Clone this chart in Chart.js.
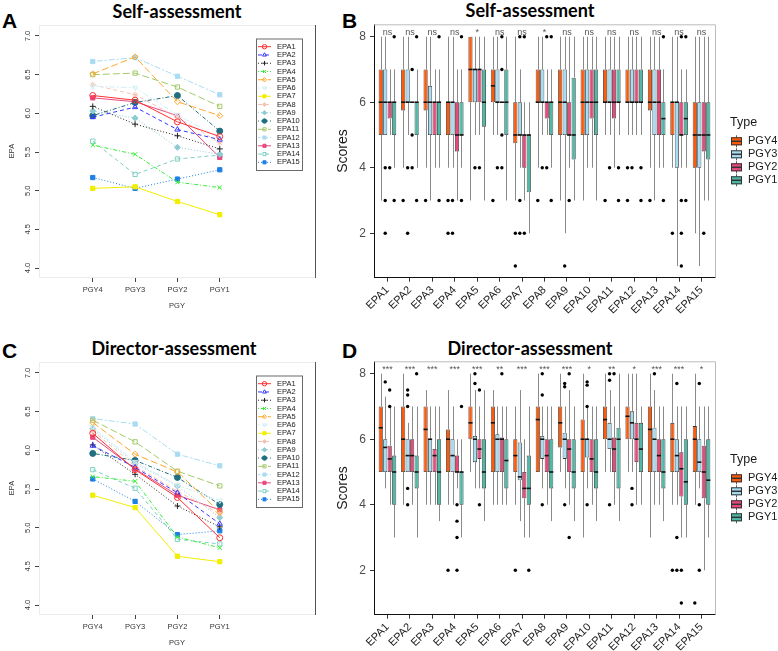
<!DOCTYPE html>
<html>
<head>
<meta charset="utf-8">
<script src="https://cdn.jsdelivr.net/npm/chart.js@4.4.1/dist/chart.umd.min.js"></script>
<style>
  body { margin: 0; width: 778px; height: 651px; position: relative; background: #fff; overflow: hidden; }
  canvas { position: absolute; }
  .title { position: absolute; font: bold 18px Lato, sans-serif; line-height: 18px; white-space: nowrap; transform: translateX(-50%); color: #000; }
  .tag { position: absolute; font: bold 21px "Liberation Sans", Arial, sans-serif; line-height: 21px; color: #000; }
</style>
</head>
<body>
<div class="tag" style="left:2px;top:10px">A</div>
<div class="tag" style="left:342px;top:10px">B</div>
<div class="tag" style="left:2px;top:340px">C</div>
<div class="tag" style="left:342px;top:340px">D</div>
<div class="title" style="left:177px;top:2px">Self-assessment</div>
<div class="title" style="left:530px;top:1px">Self-assessment</div>
<div class="title" style="left:174px;top:339px">Director-assessment</div>
<div class="title" style="left:530px;top:339px">Director-assessment</div>
<canvas id="lineSelf" width="330" height="325" style="left:0;top:0"></canvas>
<canvas id="boxSelf" width="448" height="330" style="left:330px;top:0"></canvas>
<canvas id="lineDirector" width="330" height="325" style="left:0;top:337px"></canvas>
<canvas id="boxDirector" width="448" height="330" style="left:330px;top:337px"></canvas>
<script>
// categories
const pgyLabels = ['PGY4', 'PGY3', 'PGY2', 'PGY1'];
const epaLabels = ['EPA1', 'EPA2', 'EPA3', 'EPA4', 'EPA5', 'EPA6', 'EPA7', 'EPA8',
  'EPA9', 'EPA10', 'EPA11', 'EPA12', 'EPA13', 'EPA14', 'EPA15'];
const lineYTicks = [4.0, 4.5, 5.0, 5.5, 6.0, 6.5, 7.0];
const boxYTicks = [2, 4, 6, 8];

// mean EPA per PGY (PGY4, PGY3, PGY2, PGY1)
const selfMeans = [
  [6.23, 6.17, 5.89, 5.70], [5.95, 6.08, 5.79, 5.66], [6.09, 5.86, 5.71, 5.54],
  [5.59, 5.47, 5.11, 5.04], [6.51, 6.73, 6.15, 5.97], [6.35, 6.33, 5.98, 5.68],
  [5.03, 5.05, 4.86, 4.69], [6.37, 6.24, 5.95, 5.62], [6.03, 5.94, 5.56, 5.47],
  [5.97, 6.14, 6.23, 5.77], [6.50, 6.52, 6.34, 6.09], [6.67, 6.72, 6.48, 6.24],
  [6.20, 6.15, 5.97, 5.43], [5.64, 5.21, 5.41, 5.46], [5.17, 5.03, 5.15, 5.27]
];
const directorMeans = [
  [6.22, 5.75, 5.39, 4.87], [6.06, 5.78, 5.45, 5.05], [6.07, 5.69, 5.28, 5.01],
  [5.66, 5.60, 4.88, 4.74], [6.36, 5.95, 5.72, 5.20], [6.30, 5.85, 5.55, 5.35],
  [5.42, 5.26, 4.63, 4.56], [6.25, 5.80, 5.47, 5.18], [6.28, 5.83, 5.54, 5.13],
  [5.96, 5.87, 5.65, 5.30], [6.39, 6.11, 5.73, 5.54], [6.41, 6.34, 5.95, 5.80],
  [6.17, 5.76, 5.42, 5.23], [5.75, 5.51, 4.85, 4.79], [5.63, 5.34, 4.91, 4.96]
];

// box stats per EPA: [min, q1, median, q3, max]
const selfPGY4 = [[3,5,6,7,8],[4,5.75,6,7,8],[4,5.75,6,7,8],[4,5,6,6,8],[3,6,7,8,8],
  [5,6,6.5,7,8],[3,4.75,5,6,8],[4,6,6,7,8],[3,5,6,7,8],[3,5,6,7,8],
  [5,6,6,7,8],[5,6,6,7,8],[4,5.75,6,7,8],[4,5,6,6,8],[2,4,5,6,8]];
const selfPGY3 = [[5,5,6,7,8],[5,6,6,7,8],[3,5,6,6.5,8],[4,5,6,6,8],[5,6,7,7,8],
  [5,6,6,7,8],[4,5,5,6,7],[5,6,6,7,8],[2,5,6,7,8],[4,5,6,7,8],
  [5,6,6,7,8],[5,6,6,7,8],[3,5,6,7,8],[1,4,6,6,8],[1,4,5,6,8]];
const selfPGY2 = [[5,5.5,6,6,7],[6,6,6,6,6],[4,5,6,6,7],[3,4.5,5,6,7],[5,6,7,7,8],
  [6,6,6,6,6],[3,4,5,5,6],[5,5.5,6,6,7],[4,5,5,6,8],[4,5.5,6,7,8],
  [4,5.5,6,7,8],[5,6,6,7,8],[4,5,6,7,8],[4,5,5,6,7],[3,4.5,5,6,8]];
const selfPGY1 = [[4,5,6,6,7],[4,5,6,6,7],[4,5,6,6,7],[4,5,5,6,7],[3,5.25,6,7,8],
  [3,5,6,7,8],[2,3.25,5,5,6],[4,5,6,6,7],[3,4.25,5,6.75,8],[3,5,6,7,8],
  [5,6,6,7,8],[5,6,6,7,8],[4,5,5.5,6,7],[4,5,5.5,6,7],[3,4.25,5,6,8]];
const selfOutPGY4 = [[],[3],[3],[3,2],[],[3],[2,1],[3],[],[],[3],[4,3],[3],[2],[]];
const selfOutPGY3 = [[4,3,2],[4,2],[],[3,2],[4],[4],[8,3,2],[4],[1],[],[4],[4],[],[],[]];
const selfOutPGY2 = [[4],[7,5,4],[],[],[4],[8,7,5,4],[8,2],[8,4],[3],[],[],[],[],[8,3,2,1],[2]];
const selfOutPGY1 = [[8,3],[8,3],[8,3],[8,3],[],[],[],[8,3],[],[],[4,3],[4,3],[8,3],[8,3],[]];

const dirPGY4 = [[5,5,6.35,7,8],[4,5,6,7,8],[4,5,6.3,7,7.5],[4,5,6,6.3,7.5],[5,6,6.5,7,8],
  [4,5,6.5,7,7.5],[4,5,5.5,6,7],[5,5,6.6,7,8],[5,5.75,6.5,7,8],[3,5,6,6.6,8],
  [5,6,6.6,7,8],[5,6,6.7,7,8],[3,5,6.3,7,8],[4,5,6,6.5,8],[4,5,6,6.4,8]];
const dirPGY3 = [[4.5,5,5.75,6,7.3],[5,5,5.5,6,6.5],[4,5,6,6,7],[4,5,5.5,6,7],[4.5,5.3,6,6.1,7.5],
  [4,5,6,6.15,7],[3.5,4.75,4.85,5.9,7.5],[4.5,5.4,6,6.1,7],[4.5,5.4,6,6.2,7],[4.5,5.44,6,6,7],
  [5,5.7,6,6.5,7.5],[5,6,6.5,6.85,8],[4,5,6,6.35,7.5],[4,5,5.5,6,7],[4.5,5,5.3,6,7]];
const dirPGY2 = [[4,5,5.4,5.8,7],[4,5,5.5,6,7],[4,5,5.5,5.7,7],[4.5,5,5,5.5,6],[4.5,5.4,5.7,6,7],
  [4,5,6,6.05,7],[3,4.2,4.5,5,6],[4,5,5.5,6,7],[4,5,5.7,6,7.5],[4,5,5.4,6,7],
  [4,5,5.7,6.05,7],[4,5.3,6,6.5,8],[4,5,5.5,6,7],[3,4.25,5.1,5.6,7],[2,4.2,5,5.8,7]];
const dirPGY1 = [[3,4,5,5.5,7],[3,4.5,5,5.5,7],[3.5,4,5,6,7],[3,4,5,5,6],[3.5,4.5,5,6,7.5],
  [4,4.5,5.35,6,7],[3,4,4.5,5.5,7],[3.5,4.5,5,6,7],[3.5,4.5,5,6,7],[3.5,4.5,5,6,7],
  [3.5,4.5,6,6.35,8],[4,5,5.7,6.5,7],[3.5,4.5,5,6,7],[3,4,4.7,6,7],[3,4,4.75,6,7]];
const dirOutPGY4 = [[],[],[],[2],[],[],[2],[],[],[],[],[],[],[2],[1]];
const dirOutPGY3 = [[7.75],[7.5,7.35,7,4.5,4],[],[],[8,7.7],[],[],[8,7.35,4],[7.7,7.6,4],[7.75,7.65,7,4],
  [8,7.8,4],[4.5,4],[8],[7.7,3,2],[7.7,4,2]];
const dirOutPGY2 = [[7.5,7],[],[],[4,3.5,3,2],[7.5,4],[8],[],[],[8,3],[],[8],[],[],[2,1],[]];
const dirOutPGY1 = [[],[8],[],[7],[],[],[2],[],[],[],[],[],[],[],[]];

const sigSelf = ['ns','ns','ns','ns','*','ns','ns','*','ns','ns','ns','ns','ns','ns','ns'];
const sigDirector = ['***','***','***','***','***','**','***','***','***','*','**','*','***','***','*'];

// styles
const epaColors = ['#ff3030', '#3636ff', '#222222', '#33ee33', '#ffa62b', '#d3eff7', '#f2ee00', '#f6c2b2',
  '#8fcbd3', '#1f6f80', '#a3c96a', '#a9dcf3', '#e8487e', '#7ecfc4', '#1e7fe6'];
const dashPatterns = [[], [4, 3], [1, 2], [1, 2, 4, 2], [7, 3], [2, 2, 6, 2]];
const epaPointStyles = ['circle','triangle','cross','crossRot','rectRot','triangle','rect','star',
  'rectRot','circle','rect','rect','rect','rect','rect'];
const epaPointRot = [0,0,0,0,0,180,0,0,0,0,0,0,0,0,0];
const epaPointFilled = [false,false,false,false,false,false,true,false,true,true,false,true,true,false,true];
const typeColors = ['#ff5a0a', '#a8dcf2', '#e84a7c', '#4db9a6'];
const boxOffsets = [-0.3, -0.1, 0.1, 0.3];

const lineFrame = {
  id: 'lineFrame',
  afterDraw(chart) {
    const {ctx, chartArea: a, scales: {y}} = chart;
    ctx.save();
    ctx.strokeStyle = '#ececec';
    ctx.lineWidth = 1;
    ctx.strokeRect(a.left + 0.5, a.top + 0.5, a.right - a.left, a.bottom - a.top);
    ctx.strokeStyle = '#555';
    ctx.beginPath();
    ctx.moveTo(a.right + 0.5, a.top);
    ctx.lineTo(a.right + 0.5, a.bottom + 1);
    ctx.stroke();
    // vertical y tick labels (R style, reading upwards)
    ctx.fillStyle = '#333';
    ctx.font = '7.5px "Liberation Sans", Arial';
    ctx.textAlign = 'center';
    ctx.textBaseline = 'middle';
    y.ticks.forEach(t => {
      ctx.save();
      ctx.translate(a.left - 11, y.getPixelForValue(t.value));
      ctx.rotate(-Math.PI / 2);
      ctx.fillText(t.value.toFixed(1), 0, 0);
      ctx.restore();
    });
    // legend
    const bx = a.right - 59, by = a.top + 13.5, bw = 46, bh = 131.5;
    ctx.fillStyle = '#fff';
    ctx.fillRect(bx, by, bw, bh);
    ctx.strokeStyle = '#6a6a6a';
    ctx.strokeRect(bx + 0.5, by + 0.5, bw, bh);
    chart.data.datasets.forEach((ds, i) => {
      const ly = by + 8.2 + i * 8.26;
      ctx.strokeStyle = ds.borderColor;
      ctx.lineWidth = 1;
      ctx.setLineDash(ds.borderDash);
      ctx.beginPath();
      ctx.moveTo(bx + 2, ly);
      ctx.lineTo(bx + 15, ly);
      ctx.stroke();
      ctx.setLineDash([]);
      ctx.fillStyle = ds.pointBackgroundColor;
      Chart.helpers.drawPoint(ctx, {pointStyle: ds.pointStyle, rotation: ds.pointRotation, radius: 2.2, borderWidth: 1}, bx + 8.5, ly);
      ctx.fillStyle = '#222';
      ctx.textAlign = 'left';
      ctx.fillText(ds.label, bx + 21, ly);
    });
    ctx.restore();
  }
};

function lineChart(id, means) {
  const datasets = epaLabels.map((name, i) => ({
    label: name,
    data: means[i].map((v, j) => ({x: j + 1, y: v})),
    borderColor: epaColors[i],
    borderWidth: 1,
    borderDash: dashPatterns[i % 6],
    pointStyle: epaPointStyles[i],
    pointRotation: epaPointRot[i],
    pointRadius: 3,
    pointBorderWidth: 1,
    pointBorderColor: epaColors[i],
    pointBackgroundColor: epaPointFilled[i] ? epaColors[i] : 'rgba(255,255,255,0)',
    fill: false,
    tension: 0
  }));
  const tickFont = {family: '"Liberation Sans", Arial', size: 7.5};
  new Chart(document.getElementById(id), {
    type: 'line',
    data: {datasets},
    options: {
      responsive: false, animation: false, devicePixelRatio: 1, events: [],
      layout: {padding: {top: 25, right: 15, left: 0, bottom: 0}},
      plugins: {legend: {display: false}, tooltip: {enabled: false}},
      scales: {
        x: {
          type: 'linear', min: -0.27, max: 6.25, offset: false,
          afterBuildTicks: s => { s.ticks = pgyLabels.map((_, j) => ({value: j + 1})); },
          afterFit: s => { s.height = 48; },
          ticks: {callback: v => pgyLabels[v - 1], font: tickFont, color: '#333', padding: 3, autoSkip: false, maxRotation: 0},
          grid: {drawOnChartArea: false, tickLength: 5, color: '#444', offset: false},
          border: {display: false},
          title: {display: true, text: 'PGY', font: tickFont, color: '#333', padding: {top: 0, bottom: 14.5}}
        },
        y: {
          min: 3.884, max: 7.142,
          afterBuildTicks: s => { s.ticks = lineYTicks.map(v => ({value: v})); },
          afterFit: s => { s.width = 39; },
          ticks: {display: false},
          grid: {drawOnChartArea: false, tickLength: 4, color: '#444'},
          border: {display: false},
          title: {display: true, text: 'EPA', font: tickFont, color: '#333', padding: {top: 7.5, bottom: 0}}
        }
      }
    },
    plugins: [lineFrame]
  });
}

const boxParts = {
  id: 'boxParts',
  beforeDatasetsDraw(chart) {
    const {ctx, scales: {y}} = chart;
    ctx.save();
    ctx.strokeStyle = '#8a8a8a';
    ctx.lineWidth = 1;
    for (let k = 0; k < 4; k++) {
      const meta = chart.getDatasetMeta(k);
      const data = chart.data.datasets[k].data;
      meta.data.forEach((el, i) => {
        const s = data[i].stats;
        const x = Math.round(el.x) + 0.5;
        ctx.beginPath();
        ctx.moveTo(x, y.getPixelForValue(s[0]));
        ctx.lineTo(x, y.getPixelForValue(s[1]));
        ctx.moveTo(x, y.getPixelForValue(s[3]));
        ctx.lineTo(x, y.getPixelForValue(s[4]));
        ctx.stroke();
      });
    }
    ctx.restore();
  },
  afterDatasetsDraw(chart) {
    const {ctx, scales: {y}} = chart;
    ctx.save();
    ctx.strokeStyle = '#111';
    ctx.lineWidth = 1.6;
    for (let k = 0; k < 4; k++) {
      const meta = chart.getDatasetMeta(k);
      const data = chart.data.datasets[k].data;
      meta.data.forEach((el, i) => {
        const ym = y.getPixelForValue(data[i].stats[2]);
        ctx.beginPath();
        ctx.moveTo(el.x - el.width / 2, ym);
        ctx.lineTo(el.x + el.width / 2, ym);
        ctx.stroke();
      });
    }
    ctx.restore();
  },
  afterDraw(chart, args, opts) {
    const {ctx, chartArea: a, scales: {x, y}} = chart;
    ctx.save();
    ctx.strokeStyle = '#bdbdbd';
    ctx.lineWidth = 1;
    ctx.beginPath();
    ctx.moveTo(a.left, a.top + 0.5);
    ctx.lineTo(a.right + 0.5, a.top + 0.5);
    ctx.lineTo(a.right + 0.5, a.bottom);
    ctx.stroke();
    // significance marks
    ctx.font = '9px "Liberation Sans", Arial';
    ctx.fillStyle = '#555';
    ctx.textAlign = 'center';
    ctx.textBaseline = 'middle';
    opts.sig.forEach((t, i) => ctx.fillText(t, x.getPixelForValue(i + 1), y.getPixelForValue(8.12)));
    // legend
    ctx.textAlign = 'left';
    ctx.fillStyle = '#1a1a1a';
    ctx.font = '12.5px "Liberation Sans", Arial';
    ctx.fillText('Type', a.right + 15, a.top + 98);
    ctx.font = '11px "Liberation Sans", Arial';
    pgyLabels.forEach((lab, k) => {
      const cy = a.top + 117 + k * 13;
      const kx = a.right + 16;
      ctx.strokeStyle = '#555';
      ctx.lineWidth = 1;
      ctx.beginPath();
      ctx.moveTo(kx + 5.5, cy - 6);
      ctx.lineTo(kx + 5.5, cy + 6);
      ctx.stroke();
      ctx.fillStyle = typeColors[k];
      ctx.fillRect(kx, cy - 4, 11, 8);
      ctx.strokeStyle = '#333';
      ctx.strokeRect(kx + 0.5, cy - 3.5, 10, 7);
      ctx.lineWidth = 1.5;
      ctx.beginPath();
      ctx.moveTo(kx, cy);
      ctx.lineTo(kx + 11, cy);
      ctx.stroke();
      ctx.fillStyle = '#1a1a1a';
      ctx.fillText(lab, kx + 17, cy);
    });
    ctx.restore();
  }
};

function boxChart(id, groups, outs, sig) {
  const datasets = groups.map((g, k) => ({
    type: 'bar',
    label: pgyLabels[k],
    data: g.map((s, i) => ({x: i + 1, y: [s[1], s[3]], stats: s})),
    backgroundColor: typeColors[k],
    borderColor: '#333',
    borderWidth: 0.8,
    borderSkipped: false,
    barPercentage: 0.92,
    categoryPercentage: 0.8
  }));
  outs.forEach((o, k) => datasets.push({
    type: 'scatter',
    label: pgyLabels[k] + ' outliers',
    data: o.flatMap((vals, i) => vals.map(v => ({x: i + 1 + boxOffsets[k], y: v}))),
    pointRadius: 1.7,
    pointBackgroundColor: '#000',
    pointBorderWidth: 0
  }));
  new Chart(document.getElementById(id), {
    type: 'bar',
    data: {datasets},
    options: {
      responsive: false, animation: false, devicePixelRatio: 1, events: [],
      layout: {padding: {top: 24.3, right: 63, left: 0, bottom: 0}},
      plugins: {legend: {display: false}, tooltip: {enabled: false}, boxParts: {sig}},
      scales: {
        x: {
          type: 'linear', min: 0.4, max: 15.6, offset: false,
          afterBuildTicks: s => { s.ticks = epaLabels.map((_, i) => ({value: i + 1})); },
          afterFit: s => { s.height = 52.3; },
          ticks: {callback: v => epaLabels[v - 1], font: {family: '"Liberation Sans", Arial', size: 11}, color: '#1a1a1a',
            minRotation: 45, maxRotation: 45, autoSkip: false, padding: 2},
          grid: {drawOnChartArea: false, tickLength: 4, color: '#333', offset: false},
          border: {color: '#111', width: 1}
        },
        y: {
          min: 0.645, max: 8.378, beginAtZero: false,
          afterBuildTicks: s => { s.ticks = boxYTicks.map(v => ({value: v})); },
          afterFit: s => { s.width = 44; },
          ticks: {font: {family: '"Liberation Sans", Arial', size: 12}, color: '#4d4d4d', padding: 4},
          grid: {drawOnChartArea: false, tickLength: 4, color: '#333'},
          border: {color: '#111', width: 1},
          title: {display: true, text: 'Scores', font: {family: '"Liberation Sans", Arial', size: 14}, color: '#1a1a1a', padding: {top: 4.6, bottom: 0}}
        }
      }
    },
    plugins: [boxParts]
  });
}

lineChart('lineSelf', selfMeans);
lineChart('lineDirector', directorMeans);
boxChart('boxSelf', [selfPGY4, selfPGY3, selfPGY2, selfPGY1], [selfOutPGY4, selfOutPGY3, selfOutPGY2, selfOutPGY1], sigSelf);
boxChart('boxDirector', [dirPGY4, dirPGY3, dirPGY2, dirPGY1], [dirOutPGY4, dirOutPGY3, dirOutPGY2, dirOutPGY1], sigDirector);
</script>
</body>
</html>
